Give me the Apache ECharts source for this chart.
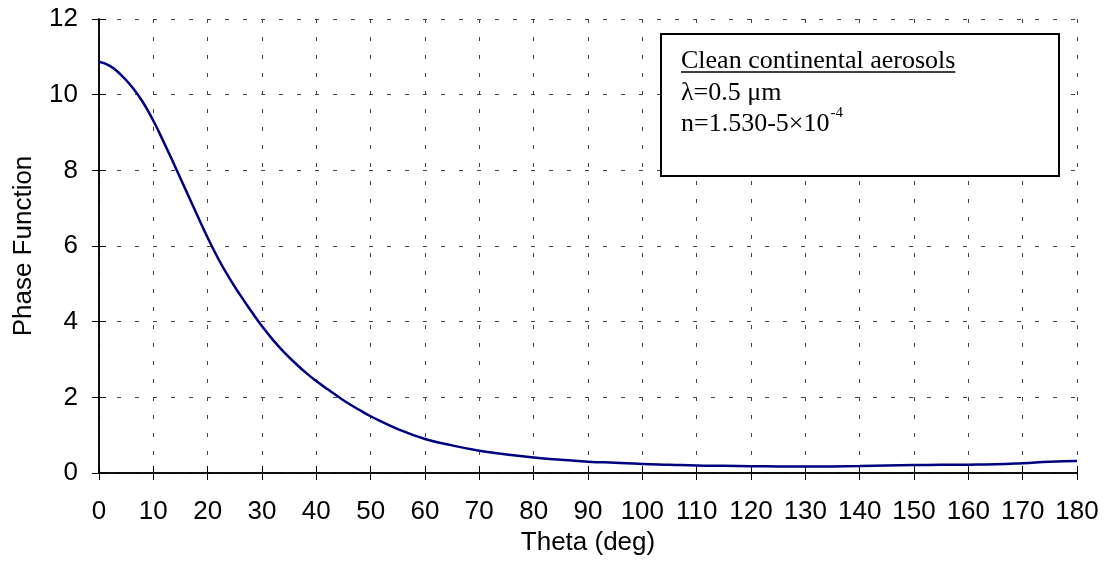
<!DOCTYPE html>
<html>
<head>
<meta charset="utf-8">
<script src="https://cdn.jsdelivr.net/npm/echarts@6/dist/echarts.min.js"></script>
<style>html,body{margin:0;padding:0;background:#fff}#c{width:1104px;height:567px}</style>
</head>
<body>
<div id="c"></div>
<script>
const theta = [0,2,4,6,8,10,12,14,16,18,20,22,24,26,28,30,32,34,36,38,40,42,44,46,48,50,55,60,65,70,75,80,85,90,95,100,105,110,115,120,125,130,135,140,145,150,155,160,165,170,175,180];
const phase = [10.87,10.76,10.53,10.22,9.82,9.31,8.72,8.10,7.47,6.84,6.22,5.65,5.15,4.70,4.28,3.88,3.52,3.20,2.92,2.66,2.43,2.22,2.02,1.83,1.66,1.50,1.16,0.90,0.73,0.59,0.49,0.41,0.35,0.30,0.27,0.24,0.22,0.20,0.19,0.18,0.175,0.17,0.175,0.185,0.20,0.21,0.215,0.22,0.23,0.26,0.30,0.32];
const xTitle = 'Theta (deg)';
const yTitle = 'Phase Function';
const boxLines = ['Clean continental aerosols', 'λ=0.5 μm', 'n=1.530-5×10', '-4'];

const sans = '"Liberation Sans", Arial, sans-serif';
const serif = '"Liberation Serif", "Times New Roman", serif';
const chart = echarts.init(document.getElementById('c'), null, {renderer: 'canvas'});

const boxFont = '26px ' + serif;
const mc = document.createElement('canvas').getContext('2d');
mc.font = boxFont;
const w1 = mc.measureText(boxLines[0]).width;
const w3 = mc.measureText(boxLines[2]).width;

const data = theta.map((t, i) => [t, phase[i]]);
const gridDash = {color: '#444', width: 1, type: [4, 14]};
const fs = 26;

chart.setOption({
  animation: false,
  grid: {left: 99, right: 27, top: 19, bottom: 94},
  xAxis: [{
    type: 'value', min: 0, max: 180, interval: 10, position: 'bottom',
    name: xTitle, nameLocation: 'middle', nameGap: 54,
    nameTextStyle: {fontFamily: sans, fontSize: fs, color: '#000'},
    axisLine: {show: true, lineStyle: {color: '#000', width: 1.5}},
    axisTick: {show: true, inside: true, length: 7, lineStyle: {color: '#000'}},
    axisLabel: {fontFamily: sans, fontSize: fs, color: '#000', margin: 26},
    splitLine: {show: true, lineStyle: gridDash}
  }, {
    type: 'value', min: 0, max: 180, interval: 10, position: 'top',
    axisLine: {show: true, lineStyle: {color: '#000', width: 1.5}},
    axisTick: {show: true, inside: true, length: 7, lineStyle: {color: '#000'}},
    axisLabel: {show: false}, splitLine: {show: false}
  }],
  yAxis: [{
    type: 'value', min: 0, max: 12, interval: 2, position: 'left',
    name: yTitle, nameLocation: 'middle', nameGap: 62,
    nameTextStyle: {fontFamily: sans, fontSize: fs, color: '#000'},
    axisLine: {show: true, lineStyle: {color: '#000', width: 1.5}},
    axisTick: {show: true, inside: true, length: 7, lineStyle: {color: '#000'}},
    axisLabel: {fontFamily: sans, fontSize: fs, color: '#000', margin: 21},
    splitLine: {show: true, lineStyle: gridDash}
  }, {
    type: 'value', min: 0, max: 12, interval: 2, position: 'right',
    axisLine: {show: true, lineStyle: {color: '#000', width: 1.5}},
    axisTick: {show: true, inside: true, length: 7, lineStyle: {color: '#000'}},
    axisLabel: {show: false}, splitLine: {show: false}
  }],
  series: [{
    type: 'line', data: data, smooth: true, showSymbol: false,
    lineStyle: {color: '#000080', width: 2.5}
  }],
  graphic: [
    {type: 'rect', shape: {x: 661, y: 34, width: 398, height: 142}, style: {fill: '#fff', stroke: '#000', lineWidth: 2}, z: 100},
    {type: 'text', x: 681, y: 61, style: {text: boxLines[0], font: boxFont, fill: '#000', verticalAlign: 'middle'}, z: 101},
    {type: 'line', shape: {x1: 681, y1: 72, x2: 681 + w1, y2: 72}, style: {stroke: '#000', lineWidth: 1.5}, z: 101},
    {type: 'text', x: 681, y: 93, style: {text: boxLines[1], font: boxFont, fill: '#000', verticalAlign: 'middle'}, z: 101},
    {type: 'text', x: 681, y: 124, style: {text: boxLines[2], font: boxFont, fill: '#000', verticalAlign: 'middle'}, z: 101},
    {type: 'text', x: 681 + w3 + 1, y: 113, style: {text: boxLines[3], font: '15px ' + serif, fill: '#000', verticalAlign: 'middle'}, z: 101}
  ]
});
</script>
</body>
</html>
